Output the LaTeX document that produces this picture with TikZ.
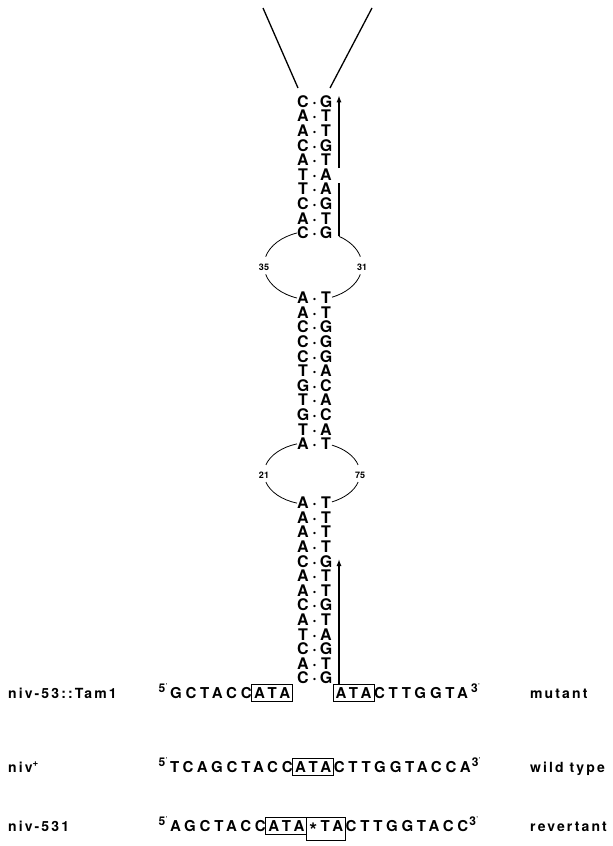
\documentclass[tikz,border=0pt]{standalone}
\usepackage{fontspec}
\setmainfont{TeX Gyre Heros}
\newfontfamily\seqfont{TeX Gyre Heros}[LetterSpace=25.7]
\newfontfamily\labfont{TeX Gyre Heros}[LetterSpace=15]
\usetikzlibrary{arrows.meta}
\newcommand\prm{{\mdseries\fontsize{8}{8}\selectfont\kern0.3pt\raisebox{3pt}{'}}}
\newcommand\revstar{{\fontsize{20}{20}\selectfont\raisebox{-6pt}{*}}\kern3.4pt}
\tikzset{
  bp/.style={font=\bfseries\fontsize{16}{18}\selectfont, inner sep=0pt, anchor=base},
  seq/.style={font=\seqfont\bfseries\fontsize{15}{17}\selectfont, inner sep=0pt, outer sep=0pt, anchor=base west},
  boxed/.style={seq, draw, line width=0.8pt, inner xsep=2.5pt, inner ysep=3pt},
  supn/.style={font=\bfseries\fontsize{12}{13}\selectfont, inner sep=0pt, anchor=base west},
  lab/.style={font=\labfont\bfseries\fontsize{14}{16}\selectfont, inner sep=0pt, anchor=base west},
  num/.style={font=\bfseries\fontsize{9}{10}\selectfont, inner sep=0pt},
  loopline/.style={line width=0.8pt},
  strand/.style={line width=1.3pt},
  arrowline/.style={line width=1.3pt, -{Latex[length=7pt,width=5pt]}},
}
\begin{document}
\begin{tikzpicture}[x=1pt,y=-1pt]
\useasboundingbox (0,0) rectangle (613,846);

% stems
\foreach \l/\r [count=\i] in {C/G,A/T,A/T,C/G,A/T,T/A,T/A,C/G,A/T,C/G}{
  \node[bp] (sa\i l) at (303,{101.6+14.6*(\i-1)+5.75}) {\l};
  \node[bp] (sa\i d) at (314.5,{101.6+14.6*(\i-1)+5.75}) {·};
  \node[bp] (sa\i r) at (326,{101.6+14.6*(\i-1)+5.75}) {\r};
}
\foreach \l/\r [count=\i] in {A/T,A/T,C/G,C/G,C/G,T/A,G/C,T/A,G/C,T/A,A/T}{
  \node[bp] (sb\i l) at (303,{298+14.6*(\i-1)+5.75}) {\l};
  \node[bp] (sb\i d) at (314.5,{298+14.6*(\i-1)+5.75}) {·};
  \node[bp] (sb\i r) at (326,{298+14.6*(\i-1)+5.75}) {\r};
}
\foreach \l/\r [count=\i] in {A/T,A/T,A/T,A/T,C/G,A/T,A/T,C/G,A/T,T/A,C/G,A/T,C/G}{
  \node[bp] (sc\i l) at (303,{503+14.6*(\i-1)+5.75}) {\l};
  \node[bp] (sc\i d) at (314.5,{503+14.6*(\i-1)+5.75}) {·};
  \node[bp] (sc\i r) at (326,{503+14.6*(\i-1)+5.75}) {\r};
}

% top strands
\coordinate (tl) at (263,8);
\coordinate (tr) at (372,8);
\draw[strand] (tl) -- (298,88);
\draw[strand] (tr) -- (330,88);

% loop 1
\coordinate (c1) at (313,265.5);
\draw[loopline] (c1) ++(109.1:49pt and 34.4pt) arc[start angle=109.1, end angle=165, x radius=49pt, y radius=34.4pt];
\draw[loopline] (c1) ++(195:49pt and 34.4pt) arc[start angle=195, end angle=250.9, x radius=49pt, y radius=34.4pt];
\path (c1) ++(57.9:49pt and 34.4pt) coordinate (arrB);
\draw[loopline] (arrB) arc[start angle=57.9, end angle=15, x radius=49pt, y radius=34.4pt];
\draw[loopline] (c1) ++(-15:49pt and 34.4pt) arc[start angle=-15, end angle=-67.2, x radius=49pt, y radius=34.4pt];
\node[num] (n35) at (264,267.5) {35};
\node[num] (n31) at (362,267.5) {31};

% loop 2
\coordinate (c2) at (312,473.5);
\draw[loopline] (c2) ++(108.2:48pt and 31.2pt) arc[start angle=108.2, end angle=164, x radius=48pt, y radius=31.2pt];
\draw[loopline] (c2) ++(196:48pt and 31.2pt) arc[start angle=196, end angle=251.8, x radius=48pt, y radius=31.2pt];
\draw[loopline] (c2) ++(65.4:48pt and 31.2pt) arc[start angle=65.4, end angle=16, x radius=48pt, y radius=31.2pt];
\draw[loopline] (c2) ++(-16:48pt and 31.2pt) arc[start angle=-16, end angle=-65.4, x radius=48pt, y radius=31.2pt];
\node[num] (n21) at (264,475) {21};
\node[num] (n75) at (360,475) {75};

% top arrow (with a break)
\coordinate (ax) at (339,0);
\draw[strand] (arrB) -- (arrB |- 0,183);
\draw[arrowline] (339,168) -- (sa1r.north -| ax);

% mutant line
\node[supn] (m5) at (158.5,692) {5\prm};
\node[seq] (mA) at (170,698) {GCTACC};
\node[boxed] (mB1) at (mA.base east) {ATA};
\node[boxed] (mB2) at (333,698) {ATA};
\node[seq] (mC) at (mB2.base east) {CTTGGTA};
\node[supn] (m3) at ([xshift=3pt,yshift=6pt]mC.base east) {3\prm};
\draw[arrowline] (mB2.north -| ax) -- (339,559);

% wild type line
\node[supn] (w5) at (158.5,766) {5\prm};
\node[seq] (wA) at (170,772) {TCAGCTACC};
\node[boxed] (wB) at (wA.base east) {ATA};
\node[seq] (wC) at (wB.base east) {CTTGGTACCA};
\node[supn] (w3) at ([xshift=1pt,yshift=6pt]wC.base east) {3\prm};

% revertant line
\node[supn] (r5) at (158.5,825) {5\prm};
\node[seq] (rA) at (170,831) {AGCTACC};
\node[boxed] (rB1) at (rA.base east) {ATA};
\node[boxed] (rB2) at (rB1.base east) {\revstar TA};
\node[seq] (rC) at (rB2.base east) {CTTGGTACC};
\node[supn] (r3) at ([xshift=1pt,yshift=6pt]rC.base east) {3\prm};

% labels
\node[lab] (l1) at (8,698) {niv-53::Tam1};
\node[lab] (l2) at (8,772) {niv\textsuperscript{+}};
\node[lab] (l3) at (8,831) {niv-531};
\node[lab] (q1) at (530,698) {mutant};
\node[lab] (q2) at (530,772) {wild type};
\node[lab] (q3) at (530,831) {revertant};
\end{tikzpicture}
\end{document}
